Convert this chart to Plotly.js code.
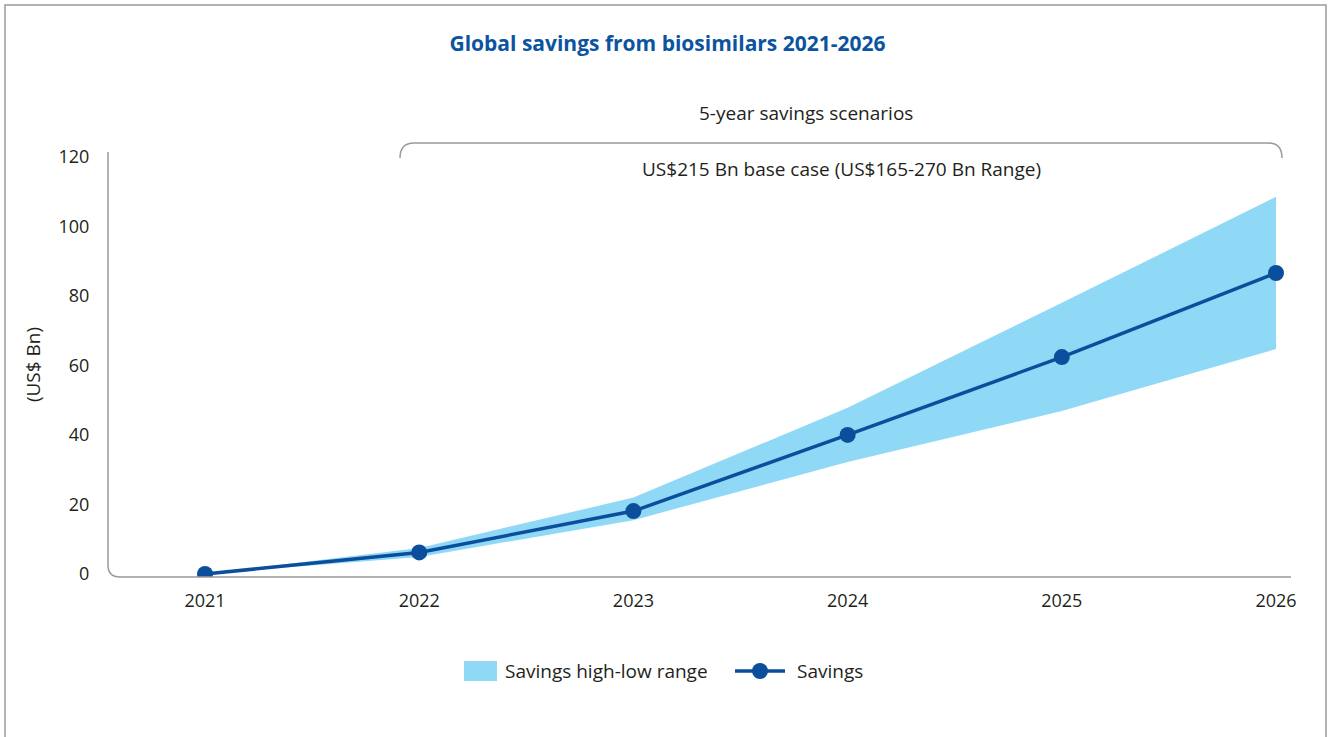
<!DOCTYPE html>
<html>
<head>
<meta charset="utf-8">
<script src="https://cdn.plot.ly/plotly-3.0.1.min.js"></script>
<style>
  html, body { margin: 0; padding: 0; background: #ffffff; }
  #chart { width: 1335px; height: 737px; }
</style>
</head>
<body>
<div id="chart"></div>
<script>
// ---- Data ----
const years = [2021, 2022, 2023, 2024, 2025, 2026];
const savings = [0, 6.2, 18.1, 40, 62.4, 86.6];
const savingsHigh = [0, 7.5, 22, 47.8, 78, 108.5];
const savingsLow = [0, 4.9, 15.5, 32.2, 46.9, 64.7];
const yTicks = [0, 20, 40, 60, 80, 100, 120];

const titleText = 'Global savings from biosimilars 2021-2026';
const scenarioHeader = '5-year savings scenarios';
const scenarioText = 'US$215 Bn base case (US$165-270 Bn Range)';
const yTitle = '(US$ Bn)';
const rangeName = 'Savings high-low range';
const lineName = 'Savings';

// ---- Styling ----
const FONT = 'Open Sans, Noto Sans, sans-serif';
const TXT = '#231f20';
const FILL = '#8fd9f6';
const LINE = '#0b4f9c';
const GREY = '#9a9a9a';

const bandX = years.concat(years.slice().reverse());
const bandY = savingsHigh.concat(savingsLow.slice().reverse());

const traces = [
  {
    x: bandX, y: bandY, type: 'scatter', mode: 'none',
    fill: 'toself', fillcolor: FILL, name: rangeName,
    hoverinfo: 'skip', showlegend: false
  },
  {
    x: years, y: savings, type: 'scatter', mode: 'lines+markers',
    name: lineName, showlegend: false,
    line: { color: LINE, width: 3.5 },
    marker: { color: LINE, size: 16 }
  }
];

// plot area in pixels: left 108, right 1291, top 152, bottom 577
const PW = 1183, PH = 425, L = 108, B = 577;
const px = v => (v - L) / PW;
const py = v => (B - v) / PH;

const rx = 12 / PW, ry = 12 / PH;

const shapes = [
  // outer frame
  { type: 'rect', xref: 'paper', yref: 'paper',
    x0: px(5), x1: px(1326), y0: py(760), y1: py(5),
    line: { color: GREY, width: 1.5 }, fillcolor: 'rgba(0,0,0,0)' },
  // y axis + rounded corner + x axis
  { type: 'path', xref: 'paper', yref: 'paper',
    path: `M 0 1 L 0 ${ry} Q 0 0 ${rx} 0 L 1 0`,
    line: { color: GREY, width: 1.5 } },
  // bracket
  { type: 'path', xref: 'paper', yref: 'paper',
    path: `M ${px(400)} ${py(158)} Q ${px(400)} ${py(143)} ${px(414)} ${py(143)} L ${px(1268)} ${py(143)} Q ${px(1282)} ${py(143)} ${px(1282)} ${py(158)}`,
    line: { color: GREY, width: 1.5 } },
  // legend: range swatch
  { type: 'rect', xref: 'paper', yref: 'paper',
    x0: px(464), x1: px(497), y0: py(681), y1: py(661),
    line: { width: 0 }, fillcolor: FILL },
  // legend: line symbol
  { type: 'line', xref: 'paper', yref: 'paper',
    x0: px(735), x1: px(785), y0: py(671), y1: py(671),
    line: { color: LINE, width: 3.5 } },
  { type: 'circle', xref: 'paper', yref: 'paper',
    x0: px(752), x1: px(768), y0: py(679), y1: py(663),
    line: { width: 0 }, fillcolor: LINE }
];

const annotations = [
  { text: scenarioHeader, xref: 'paper', yref: 'paper', x: px(806), y: py(113),
    showarrow: false, xanchor: 'center', yanchor: 'middle',
    font: { family: FONT, size: 19, color: TXT } },
  { text: scenarioText, xref: 'paper', yref: 'paper', x: px(841), y: py(169),
    showarrow: false, xanchor: 'center', yanchor: 'middle',
    font: { family: FONT, size: 19, color: TXT } },
  { text: rangeName, xref: 'paper', yref: 'paper', x: px(503), y: py(671),
    showarrow: false, xanchor: 'left', yanchor: 'middle',
    font: { family: FONT, size: 19, color: TXT } },
  { text: lineName, xref: 'paper', yref: 'paper', x: px(795), y: py(671),
    showarrow: false, xanchor: 'left', yanchor: 'middle',
    font: { family: FONT, size: 19, color: TXT } }
];

const layout = {
  width: 1335, height: 737,
  margin: { l: 108, r: 44, t: 152, b: 160 },
  paper_bgcolor: '#ffffff', plot_bgcolor: '#ffffff',
  font: { family: FONT, size: 18, color: TXT },
  title: {
    text: '<b>' + titleText + '</b>',
    x: 0.5, xanchor: 'center', y: 1 - 44 / 737, yanchor: 'middle',
    font: { family: FONT, size: 21, color: '#0b54a0' }
  },
  xaxis: {
    range: [2020.547, 2026.07],
    tickvals: years, ticktext: years.map(String),
    showgrid: false, zeroline: false, showline: false,
    ticks: 'outside', ticklen: 7, tickcolor: 'rgba(0,0,0,0)',
    tickfont: { family: FONT, size: 18, color: TXT },
    fixedrange: true
  },
  yaxis: {
    range: [-0.86, 121.4],
    tickvals: yTicks,
    showgrid: false, zeroline: false, showline: false,
    ticks: 'outside', ticklen: 14, tickcolor: 'rgba(0,0,0,0)',
    tickfont: { family: FONT, size: 18, color: TXT },
    title: { text: yTitle, standoff: 12, font: { family: FONT, size: 19, color: TXT } },
    fixedrange: true
  },
  showlegend: false,
  shapes: shapes,
  annotations: annotations
};

Plotly.newPlot('chart', traces, layout, { displayModeBar: false, staticPlot: true });
</script>
</body>
</html>
